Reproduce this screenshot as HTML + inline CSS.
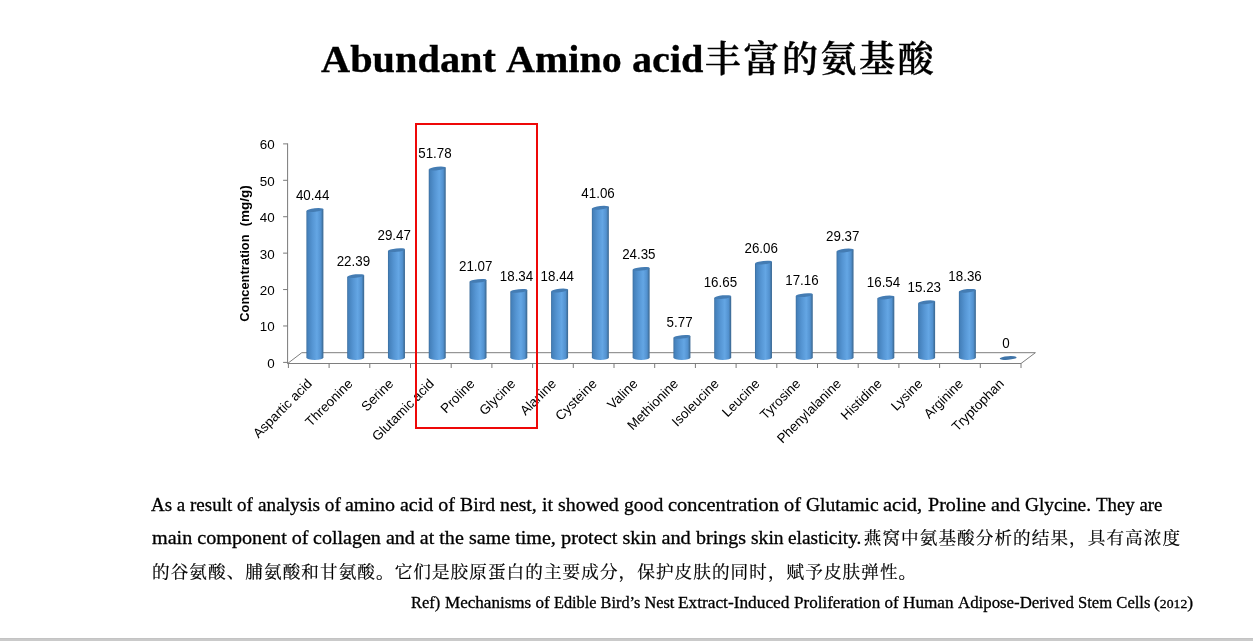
<!DOCTYPE html>
<html lang="en"><head><meta charset="utf-8"><title>Abundant Amino acid</title>
<style>
html,body{margin:0;padding:0;background:#fff;}
body{width:1253px;height:641px;position:relative;overflow:hidden;font-family:"Liberation Serif","Noto Serif CJK SC",serif;color:#000;}
.t{font-family:"Liberation Sans","DejaVu Sans",sans-serif;font-size:13.4px;fill:#000;}
.v{font-size:14px;}
.tb{font-family:"Liberation Sans","DejaVu Sans",sans-serif;font-size:13.4px;font-weight:bold;fill:#000;}
.abs{position:absolute;margin:0;white-space:nowrap;}
.sx{position:absolute;top:0;display:block;white-space:pre;transform-origin:0 50%;}
.os{font-size:0.78em;}
h1{font-size:37.33px;line-height:44px;font-weight:bold;height:44px;}
h1.zh{font-family:"Noto Serif CJK SC",serif;font-weight:600;font-size:36px;letter-spacing:2.6px;-webkit-text-stroke:0.35px #000;}
.ln{font-size:18.67px;line-height:24px;height:24px;}
.sx{-webkit-text-stroke:0.3px #000;}
.zh{-webkit-text-stroke:0.2px #000;}
p.zh{font-size:17.6px;letter-spacing:1.07px;}
.zh{font-family:"Noto Serif CJK SC",serif;}
.ref{font-size:16px;line-height:20px;height:20px;}
.bar{position:absolute;left:0;top:638px;width:1253px;height:3px;background:#cacaca;border-top:1px solid #c3c3c3;box-sizing:border-box;}
</style></head><body>
<h1 class="abs" style="left:0;top:37.9px;width:1253px"><span class="sx" id="t0" style="left:321.2px;transform:scaleX(1.0813)">Abundant </span><span class="sx" id="t1" style="left:506.3px;transform:scaleX(1.0726)">Amino </span><span class="sx" id="t2" style="left:632.0px;transform:scaleX(1.0772)">acid</span></h1>
<h1 class="abs zh" id="tz" style="left:704.7px;top:35.3px">丰富的氨基酸</h1>
<svg width="1253" height="641" viewBox="0 0 1253 641" style="position:absolute;left:0;top:0">
<defs>
<linearGradient id="bg" x1="0" y1="0" x2="1" y2="0"><stop offset="0" stop-color="#3a6c9c"/><stop offset="0.08" stop-color="#4581bb"/><stop offset="0.35" stop-color="#5595d3"/><stop offset="0.62" stop-color="#64a6e4"/><stop offset="0.85" stop-color="#5291cf"/><stop offset="0.95" stop-color="#41729f"/><stop offset="1" stop-color="#3b6893"/></linearGradient>
</defs>
<polygon points="287.6,363.5 301.8,352.7 1035.4,352.7 1021.0,363.5" fill="#ffffff" stroke="#7e7e7e" stroke-width="1" stroke-linejoin="round"/>
<line x1="287.6" y1="143.4" x2="287.6" y2="363.5" stroke="#7a7a7a" stroke-width="1"/>
<line x1="283.1" y1="362.40" x2="287.6" y2="362.40" stroke="#7a7a7a" stroke-width="1"/>
<text x="274.7" y="367.80" text-anchor="end" class="t">0</text>
<line x1="283.1" y1="325.98" x2="287.6" y2="325.98" stroke="#7a7a7a" stroke-width="1"/>
<text x="274.7" y="331.38" text-anchor="end" class="t">10</text>
<line x1="283.1" y1="289.56" x2="287.6" y2="289.56" stroke="#7a7a7a" stroke-width="1"/>
<text x="274.7" y="294.96" text-anchor="end" class="t">20</text>
<line x1="283.1" y1="253.14" x2="287.6" y2="253.14" stroke="#7a7a7a" stroke-width="1"/>
<text x="274.7" y="258.54" text-anchor="end" class="t">30</text>
<line x1="283.1" y1="216.72" x2="287.6" y2="216.72" stroke="#7a7a7a" stroke-width="1"/>
<text x="274.7" y="222.12" text-anchor="end" class="t">40</text>
<line x1="283.1" y1="180.30" x2="287.6" y2="180.30" stroke="#7a7a7a" stroke-width="1"/>
<text x="274.7" y="185.70" text-anchor="end" class="t">50</text>
<line x1="283.1" y1="143.88" x2="287.6" y2="143.88" stroke="#7a7a7a" stroke-width="1"/>
<text x="274.7" y="149.28" text-anchor="end" class="t">60</text>
<line x1="288.40" y1="363.5" x2="288.40" y2="368.0" stroke="#7a7a7a" stroke-width="1"/>
<line x1="329.10" y1="363.5" x2="329.10" y2="368.0" stroke="#7a7a7a" stroke-width="1"/>
<line x1="369.80" y1="363.5" x2="369.80" y2="368.0" stroke="#7a7a7a" stroke-width="1"/>
<line x1="410.50" y1="363.5" x2="410.50" y2="368.0" stroke="#7a7a7a" stroke-width="1"/>
<line x1="451.20" y1="363.5" x2="451.20" y2="368.0" stroke="#7a7a7a" stroke-width="1"/>
<line x1="491.90" y1="363.5" x2="491.90" y2="368.0" stroke="#7a7a7a" stroke-width="1"/>
<line x1="532.60" y1="363.5" x2="532.60" y2="368.0" stroke="#7a7a7a" stroke-width="1"/>
<line x1="573.30" y1="363.5" x2="573.30" y2="368.0" stroke="#7a7a7a" stroke-width="1"/>
<line x1="614.00" y1="363.5" x2="614.00" y2="368.0" stroke="#7a7a7a" stroke-width="1"/>
<line x1="654.70" y1="363.5" x2="654.70" y2="368.0" stroke="#7a7a7a" stroke-width="1"/>
<line x1="695.40" y1="363.5" x2="695.40" y2="368.0" stroke="#7a7a7a" stroke-width="1"/>
<line x1="736.10" y1="363.5" x2="736.10" y2="368.0" stroke="#7a7a7a" stroke-width="1"/>
<line x1="776.80" y1="363.5" x2="776.80" y2="368.0" stroke="#7a7a7a" stroke-width="1"/>
<line x1="817.50" y1="363.5" x2="817.50" y2="368.0" stroke="#7a7a7a" stroke-width="1"/>
<line x1="858.20" y1="363.5" x2="858.20" y2="368.0" stroke="#7a7a7a" stroke-width="1"/>
<line x1="898.90" y1="363.5" x2="898.90" y2="368.0" stroke="#7a7a7a" stroke-width="1"/>
<line x1="939.60" y1="363.5" x2="939.60" y2="368.0" stroke="#7a7a7a" stroke-width="1"/>
<line x1="980.30" y1="363.5" x2="980.30" y2="368.0" stroke="#7a7a7a" stroke-width="1"/>
<line x1="1021.00" y1="363.5" x2="1021.00" y2="368.0" stroke="#7a7a7a" stroke-width="1"/>
<path d="M306.40,210.89 L306.40,357.40 A8.5,2.6 0 0 0 323.40,357.40 L323.40,209.09 Z" fill="url(#bg)"/>
<ellipse cx="314.90" cy="209.99" rx="8.5" ry="1.7" fill="#447cb3" transform="rotate(-6 314.90 209.99)"/>
<text transform="translate(312.60,199.99) scale(0.955,1)" text-anchor="middle" class="t v">40.44</text>
<text transform="translate(312.75,384.5) rotate(-45)" text-anchor="end" class="t">Aspartic acid</text>
<path d="M347.18,276.95 L347.18,357.40 A8.5,2.6 0 0 0 364.18,357.40 L364.18,275.15 Z" fill="url(#bg)"/>
<ellipse cx="355.68" cy="276.05" rx="8.5" ry="1.7" fill="#447cb3" transform="rotate(-6 355.68 276.05)"/>
<text transform="translate(353.38,266.05) scale(0.955,1)" text-anchor="middle" class="t v">22.39</text>
<text transform="translate(353.46,384.5) rotate(-45)" text-anchor="end" class="t">Threonine</text>
<path d="M387.96,251.04 L387.96,357.40 A8.5,2.6 0 0 0 404.96,357.40 L404.96,249.24 Z" fill="url(#bg)"/>
<ellipse cx="396.46" cy="250.14" rx="8.5" ry="1.7" fill="#447cb3" transform="rotate(-6 396.46 250.14)"/>
<text transform="translate(394.16,240.14) scale(0.955,1)" text-anchor="middle" class="t v">29.47</text>
<text transform="translate(394.17,384.5) rotate(-45)" text-anchor="end" class="t">Serine</text>
<path d="M428.74,169.39 L428.74,357.40 A8.5,2.6 0 0 0 445.74,357.40 L445.74,167.59 Z" fill="url(#bg)"/>
<ellipse cx="437.24" cy="168.49" rx="8.5" ry="1.7" fill="#447cb3" transform="rotate(-6 437.24 168.49)"/>
<text transform="translate(434.94,158.49) scale(0.955,1)" text-anchor="middle" class="t v">51.78</text>
<text transform="translate(434.88,384.5) rotate(-45)" text-anchor="end" class="t">Glutamic acid</text>
<path d="M469.52,281.78 L469.52,357.40 A8.5,2.6 0 0 0 486.52,357.40 L486.52,279.98 Z" fill="url(#bg)"/>
<ellipse cx="478.02" cy="280.88" rx="8.5" ry="1.7" fill="#447cb3" transform="rotate(-6 478.02 280.88)"/>
<text transform="translate(475.72,270.88) scale(0.955,1)" text-anchor="middle" class="t v">21.07</text>
<text transform="translate(475.59,384.5) rotate(-45)" text-anchor="end" class="t">Proline</text>
<path d="M510.30,291.78 L510.30,357.40 A8.5,2.6 0 0 0 527.30,357.40 L527.30,289.98 Z" fill="url(#bg)"/>
<ellipse cx="518.80" cy="290.88" rx="8.5" ry="1.7" fill="#447cb3" transform="rotate(-6 518.80 290.88)"/>
<text transform="translate(516.50,280.88) scale(0.955,1)" text-anchor="middle" class="t v">18.34</text>
<text transform="translate(516.30,384.5) rotate(-45)" text-anchor="end" class="t">Glycine</text>
<path d="M551.08,291.41 L551.08,357.40 A8.5,2.6 0 0 0 568.08,357.40 L568.08,289.61 Z" fill="url(#bg)"/>
<ellipse cx="559.58" cy="290.51" rx="8.5" ry="1.7" fill="#447cb3" transform="rotate(-6 559.58 290.51)"/>
<text transform="translate(557.28,280.51) scale(0.955,1)" text-anchor="middle" class="t v">18.44</text>
<text transform="translate(557.01,384.5) rotate(-45)" text-anchor="end" class="t">Alanine</text>
<path d="M591.86,208.62 L591.86,357.40 A8.5,2.6 0 0 0 608.86,357.40 L608.86,206.82 Z" fill="url(#bg)"/>
<ellipse cx="600.36" cy="207.72" rx="8.5" ry="1.7" fill="#447cb3" transform="rotate(-6 600.36 207.72)"/>
<text transform="translate(598.06,197.72) scale(0.955,1)" text-anchor="middle" class="t v">41.06</text>
<text transform="translate(597.72,384.5) rotate(-45)" text-anchor="end" class="t">Cysteine</text>
<path d="M632.64,269.78 L632.64,357.40 A8.5,2.6 0 0 0 649.64,357.40 L649.64,267.98 Z" fill="url(#bg)"/>
<ellipse cx="641.14" cy="268.88" rx="8.5" ry="1.7" fill="#447cb3" transform="rotate(-6 641.14 268.88)"/>
<text transform="translate(638.84,258.88) scale(0.955,1)" text-anchor="middle" class="t v">24.35</text>
<text transform="translate(638.43,384.5) rotate(-45)" text-anchor="end" class="t">Valine</text>
<path d="M673.42,337.78 L673.42,357.40 A8.5,2.6 0 0 0 690.42,357.40 L690.42,335.98 Z" fill="url(#bg)"/>
<ellipse cx="681.92" cy="336.88" rx="8.5" ry="1.7" fill="#447cb3" transform="rotate(-6 681.92 336.88)"/>
<text transform="translate(679.62,326.88) scale(0.955,1)" text-anchor="middle" class="t v">5.77</text>
<text transform="translate(679.14,384.5) rotate(-45)" text-anchor="end" class="t">Methionine</text>
<path d="M714.20,297.96 L714.20,357.40 A8.5,2.6 0 0 0 731.20,357.40 L731.20,296.16 Z" fill="url(#bg)"/>
<ellipse cx="722.70" cy="297.06" rx="8.5" ry="1.7" fill="#447cb3" transform="rotate(-6 722.70 297.06)"/>
<text transform="translate(720.40,287.06) scale(0.955,1)" text-anchor="middle" class="t v">16.65</text>
<text transform="translate(719.86,384.5) rotate(-45)" text-anchor="end" class="t">Isoleucine</text>
<path d="M754.98,263.52 L754.98,357.40 A8.5,2.6 0 0 0 771.98,357.40 L771.98,261.72 Z" fill="url(#bg)"/>
<ellipse cx="763.48" cy="262.62" rx="8.5" ry="1.7" fill="#447cb3" transform="rotate(-6 763.48 262.62)"/>
<text transform="translate(761.18,252.62) scale(0.955,1)" text-anchor="middle" class="t v">26.06</text>
<text transform="translate(760.57,384.5) rotate(-45)" text-anchor="end" class="t">Leucine</text>
<path d="M795.76,296.09 L795.76,357.40 A8.5,2.6 0 0 0 812.76,357.40 L812.76,294.29 Z" fill="url(#bg)"/>
<ellipse cx="804.26" cy="295.19" rx="8.5" ry="1.7" fill="#447cb3" transform="rotate(-6 804.26 295.19)"/>
<text transform="translate(801.96,285.19) scale(0.955,1)" text-anchor="middle" class="t v">17.16</text>
<text transform="translate(801.27,384.5) rotate(-45)" text-anchor="end" class="t">Tyrosine</text>
<path d="M836.54,251.41 L836.54,357.40 A8.5,2.6 0 0 0 853.54,357.40 L853.54,249.61 Z" fill="url(#bg)"/>
<ellipse cx="845.04" cy="250.51" rx="8.5" ry="1.7" fill="#447cb3" transform="rotate(-6 845.04 250.51)"/>
<text transform="translate(842.74,240.51) scale(0.955,1)" text-anchor="middle" class="t v">29.37</text>
<text transform="translate(841.99,384.5) rotate(-45)" text-anchor="end" class="t">Phenylalanine</text>
<path d="M877.32,298.36 L877.32,357.40 A8.5,2.6 0 0 0 894.32,357.40 L894.32,296.56 Z" fill="url(#bg)"/>
<ellipse cx="885.82" cy="297.46" rx="8.5" ry="1.7" fill="#447cb3" transform="rotate(-6 885.82 297.46)"/>
<text transform="translate(883.52,287.46) scale(0.955,1)" text-anchor="middle" class="t v">16.54</text>
<text transform="translate(882.69,384.5) rotate(-45)" text-anchor="end" class="t">Histidine</text>
<path d="M918.10,303.16 L918.10,357.40 A8.5,2.6 0 0 0 935.10,357.40 L935.10,301.36 Z" fill="url(#bg)"/>
<ellipse cx="926.60" cy="302.26" rx="8.5" ry="1.7" fill="#447cb3" transform="rotate(-6 926.60 302.26)"/>
<text transform="translate(924.30,292.26) scale(0.955,1)" text-anchor="middle" class="t v">15.23</text>
<text transform="translate(923.40,384.5) rotate(-45)" text-anchor="end" class="t">Lysine</text>
<path d="M958.88,291.70 L958.88,357.40 A8.5,2.6 0 0 0 975.88,357.40 L975.88,289.90 Z" fill="url(#bg)"/>
<ellipse cx="967.38" cy="290.80" rx="8.5" ry="1.7" fill="#447cb3" transform="rotate(-6 967.38 290.80)"/>
<text transform="translate(965.08,280.80) scale(0.955,1)" text-anchor="middle" class="t v">18.36</text>
<text transform="translate(964.12,384.5) rotate(-45)" text-anchor="end" class="t">Arginine</text>
<ellipse cx="1008.16" cy="358.00" rx="8.5" ry="1.8" fill="#3f74a8" transform="rotate(-4 1008.16 358.00)"/>
<text transform="translate(1005.86,347.80) scale(0.955,1)" text-anchor="middle" class="t v">0</text>
<text transform="translate(1004.83,384.5) rotate(-45)" text-anchor="end" class="t">Tryptophan</text>
<text transform="translate(249.2,321.7) rotate(-90)" textLength="87.2" lengthAdjust="spacingAndGlyphs" class="tb">Concentration</text>
<text transform="translate(249.2,226.6) rotate(-90)" textLength="41.4" lengthAdjust="spacingAndGlyphs" class="tb">(mg/g)</text>
<rect x="416" y="124" width="121" height="304" fill="none" stroke="#ee0808" stroke-width="2"/>
</svg>
<p class="abs ln" style="left:0;top:493px;width:1253px"><span class="sx" id="a0" style="left:151.2px;transform:scaleX(1.0175)">As a result of </span><span class="sx" id="a1" style="left:257.7px;transform:scaleX(1.0308)">analysis of </span><span class="sx" id="a2" style="left:345.3px;transform:scaleX(1.0704)">amino acid of </span><span class="sx" id="a3" style="left:460.1px;transform:scaleX(1.0580)">Bird nest, </span><span class="sx" id="a4" style="left:541.8px;transform:scaleX(1.0664)">it showed </span><span class="sx" id="a5" style="left:623.6px;transform:scaleX(1.0504)">good </span><span class="sx" id="a6" style="left:667.7px;transform:scaleX(1.0925)">concentration of </span><span class="sx" id="a7" style="left:805.8px;transform:scaleX(1.0473)">Glutamic </span><span class="sx" id="a8" style="left:883.4px;transform:scaleX(1.0964)">acid, </span><span class="sx" id="a9" style="left:927.7px;transform:scaleX(1.0757)">Proline and </span><span class="sx" id="a10" style="left:1024.7px;transform:scaleX(1.0352)">Glycine. </span><span class="sx" id="a11" style="left:1095.5px;transform:scaleX(1.0094)">They are</span></p>
<p class="abs ln" style="left:0;top:526.2px;width:1253px"><span class="sx" id="b0" style="left:151.7px;transform:scaleX(1.0792)">main component of </span><span class="sx" id="b1" style="left:313.3px;transform:scaleX(1.0741)">collagen and at the </span><span class="sx" id="b2" style="left:469.1px;transform:scaleX(1.0751)">same time, </span><span class="sx" id="b3" style="left:561.0px;transform:scaleX(1.0886)">protect skin and </span><span class="sx" id="b4" style="left:695.8px;transform:scaleX(1.0719)">brings </span><span class="sx" id="b5" style="left:750.8px;transform:scaleX(1.0485)">skin </span><span class="sx" id="b6" style="left:788.3px;transform:scaleX(1.0365)">elasticity.</span></p>
<p class="abs ln zh" id="l2z" style="left:863.8px;top:524.7px">燕窝中氨基酸分析的结果，具有高浓度</p>
<p class="abs ln zh" id="l3" style="left:152px;top:559px">的谷氨酸、脯氨酸和甘氨酸。它们是胶原蛋白的主要成分，保护皮肤的同时，赋予皮肤弹性。</p>
<p class="abs ref" style="left:0;top:593.2px;width:1253px"><span class="sx" id="r0" style="left:411.4px;transform:scaleX(1.0266)">Ref) </span><span class="sx" id="r1" style="left:444.7px;transform:scaleX(1.0665)">Mechanisms of </span><span class="sx" id="r2" style="left:553.7px;transform:scaleX(1.0178)">Edible Bird’s Nest </span><span class="sx" id="r3" style="left:678.1px;transform:scaleX(1.0807)">Extract-Induced </span><span class="sx" id="r4" style="left:793.8px;transform:scaleX(1.0655)">Proliferation of </span><span class="sx" id="r5" style="left:902.7px;transform:scaleX(1.0742)">Human </span><span class="sx" id="r6" style="left:957.6px;transform:scaleX(1.0509)">Adipose-Derived </span><span class="sx" id="r7" style="left:1077.6px;transform:scaleX(1.0382)">Stem Cells </span><span class="sx" id="r8" style="left:1154.2px;transform:scaleX(1.0985)">(<span class="os">2012</span>)</span></p>
<div class="bar"></div>
</body></html>
